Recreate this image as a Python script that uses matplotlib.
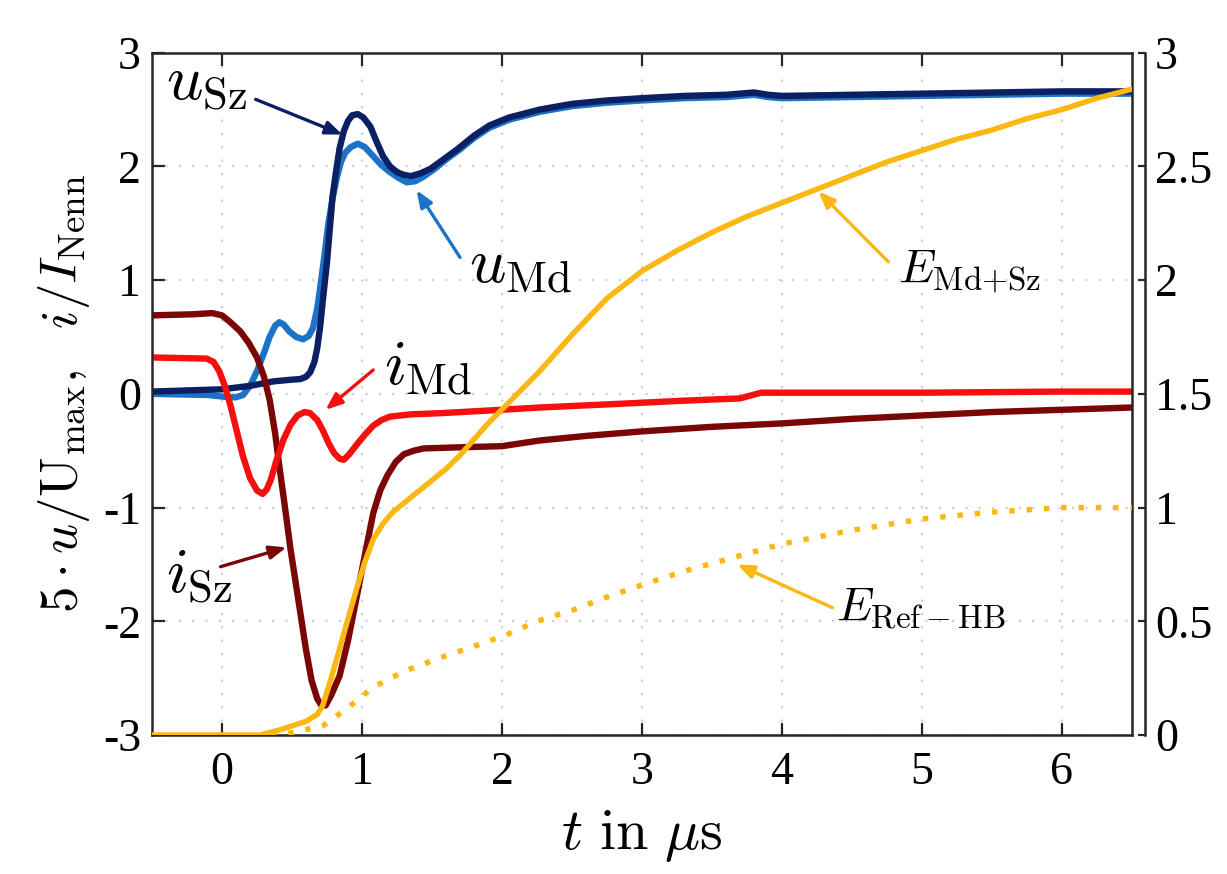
import matplotlib
matplotlib.use("Agg")
import matplotlib.pyplot as plt

plt.rcParams['font.family'] = ['Liberation Serif', 'DejaVu Serif']
plt.rcParams['mathtext.fontset'] = 'cm'
plt.rcParams['axes.unicode_minus'] = False

# ---- data ----
t_uSz = [-0.5, 0.0, 0.2, 0.37, 0.5, 0.56, 0.6, 0.63, 0.66, 0.68, 0.7, 0.72, 0.75,
         0.77, 0.79, 0.82, 0.84, 0.87, 0.9, 0.93, 0.97, 1.01, 1.06, 1.1, 1.15, 1.2,
         1.25, 1.3, 1.35, 1.42, 1.49, 1.58, 1.68, 1.8, 1.91, 2.05, 2.27, 2.5, 2.75,
         3.0, 3.3, 3.6, 3.8, 3.9, 4.0, 4.5, 5.0, 5.5, 6.0, 6.5]
u_Sz = [0.02, 0.04, 0.07, 0.11, 0.125, 0.13, 0.15, 0.19, 0.28, 0.40, 0.58, 0.82,
        1.16, 1.45, 1.74, 2.0, 2.16, 2.31, 2.40, 2.45, 2.46, 2.43, 2.35, 2.23, 2.09,
        2.0, 1.95, 1.925, 1.915, 1.94, 1.98, 2.06, 2.15, 2.27, 2.36, 2.43, 2.5, 2.55,
        2.58, 2.6, 2.62, 2.63, 2.65, 2.63, 2.62, 2.63, 2.64, 2.65, 2.66, 2.66]

t_uMd = [-0.5, -0.1, 0.05, 0.1, 0.15, 0.2, 0.25, 0.3, 0.34, 0.38, 0.41, 0.44, 0.48,
         0.53, 0.58, 0.62, 0.65, 0.68, 0.7, 0.73, 0.76, 0.79, 0.82, 0.85, 0.88, 0.92,
         0.97, 1.02, 1.08, 1.14, 1.2, 1.26, 1.32, 1.38, 1.44, 1.52, 1.6, 1.7, 1.8,
         1.91, 2.05, 2.27, 2.5, 2.75, 3.0, 3.3, 3.6, 3.8, 3.9, 4.0, 4.5, 5.0, 5.5,
         6.0, 6.5]
u_Md = [0.0, -0.01, -0.03, -0.03, -0.01, 0.07, 0.2, 0.36, 0.5, 0.6, 0.63, 0.61, 0.55,
        0.5, 0.48, 0.51, 0.58, 0.75, 0.92, 1.2, 1.5, 1.72, 1.9, 2.04, 2.12, 2.17,
        2.2, 2.17, 2.09, 2.01, 1.95, 1.9, 1.86, 1.87, 1.91, 1.98, 2.06, 2.15, 2.25,
        2.34, 2.41, 2.48, 2.53, 2.56, 2.58, 2.6, 2.61, 2.63, 2.61, 2.6, 2.61, 2.62,
        2.63, 2.64, 2.64]

t_iSz = [-0.5, -0.2, -0.07, 0.0, 0.06, 0.13, 0.19, 0.25, 0.3, 0.34, 0.38, 0.41, 0.45,
         0.49, 0.55, 0.6, 0.64, 0.68, 0.71, 0.74, 0.78, 0.84, 0.9, 0.96, 1.02, 1.08,
         1.13, 1.18, 1.24, 1.3, 1.37, 1.44, 1.7, 2.0, 2.27, 2.6, 3.0, 3.5, 4.0, 4.5,
         5.0, 5.5, 6.0, 6.5]
i_Sz = [0.69, 0.70, 0.71, 0.69, 0.63, 0.55, 0.45, 0.32, 0.15, -0.05, -0.35, -0.64,
        -1.0, -1.37, -1.85, -2.25, -2.52, -2.68, -2.74, -2.74, -2.65, -2.48, -2.17,
        -1.8, -1.42, -1.05, -0.85, -0.72, -0.6, -0.53, -0.5, -0.48, -0.47, -0.46,
        -0.41, -0.37, -0.33, -0.29, -0.26, -0.22, -0.19, -0.16, -0.14, -0.12]

t_iMd = [-0.5, -0.11, -0.06, -0.02, 0.02, 0.06, 0.1, 0.15, 0.2, 0.25, 0.29, 0.32,
         0.35, 0.39, 0.44, 0.49, 0.54, 0.59, 0.63, 0.68, 0.72, 0.76, 0.8, 0.84, 0.87,
         0.91, 0.96, 1.02, 1.08, 1.14, 1.2, 1.35, 1.56, 2.0, 2.27, 2.8, 3.3, 3.7,
         3.85, 4.5, 5.0, 6.0, 6.5]
i_Md = [0.32, 0.31, 0.28, 0.2, 0.07, -0.1, -0.3, -0.55, -0.74, -0.85, -0.88, -0.84,
        -0.75, -0.58, -0.4, -0.27, -0.19, -0.16, -0.17, -0.23, -0.32, -0.43, -0.52,
        -0.57, -0.58, -0.53, -0.45, -0.36, -0.28, -0.23, -0.2, -0.18, -0.17, -0.14,
        -0.12, -0.09, -0.06, -0.04, 0.01, 0.01, 0.01, 0.02, 0.02]

t_E = [-0.5, 0.27, 0.4, 0.5, 0.6, 0.68, 0.72, 0.78, 0.84, 0.9, 0.96, 1.02, 1.08, 1.15,
       1.22, 1.3, 1.4, 1.5, 1.6, 1.7, 1.8, 1.9, 2.03, 2.27, 2.5, 2.75, 3.0, 3.25,
       3.5, 3.75, 4.0, 4.25, 4.5, 4.75, 5.0, 5.25, 5.5, 5.75, 6.0, 6.25, 6.5]
E_MdSz = [0.0, 0.0, 0.02, 0.04, 0.06, 0.09, 0.13, 0.25, 0.38, 0.51, 0.64, 0.76, 0.86,
          0.93, 0.98, 1.02, 1.07, 1.12, 1.17, 1.23, 1.3, 1.37, 1.45, 1.6, 1.76, 1.92,
          2.04, 2.13, 2.21, 2.28, 2.34, 2.4, 2.46, 2.52, 2.57, 2.62, 2.66, 2.71, 2.75,
          2.8, 2.84]

t_Eref = [0.35, 0.5, 0.72, 0.9, 1.08, 1.3, 1.56, 1.8, 2.03, 2.25, 2.51, 2.72, 3.0,
          3.3, 3.65, 4.0, 4.5, 5.0, 5.5, 6.0, 6.5]
E_Ref = [0.0, 0.01, 0.04, 0.12, 0.21, 0.28, 0.34, 0.39, 0.44, 0.5, 0.55, 0.6, 0.66,
         0.72, 0.78, 0.84, 0.9, 0.95, 0.98, 1.0, 1.0]

x_ticks = [0, 1, 2, 3, 4, 5, 6]
yl_ticks = [-3, -2, -1, 0, 1, 2, 3]
yr_ticks = [0, 0.5, 1, 1.5, 2, 2.5, 3]
yr_labels = ['0', '0.5', '1', '1.5', '2', '2.5', '3']

# ---- styles ----
c_uSz = '#0b1f63'
c_uMd = '#1a73c6'
c_iMd = '#f50f0f'
c_iSz = '#7a0606'
c_E = '#fbb712'
spine_c = '#262626'
LW = 4.6

fig = plt.figure(figsize=(12.27, 8.74), dpi=100)
ax = fig.add_axes([152/1227, 1-735/874, 980/1227, (735-52.7)/874])

ax.plot(t_uMd, u_Md, color=c_uMd, lw=LW, solid_joinstyle='round')
ax.plot(t_uSz, u_Sz, color=c_uSz, lw=LW, solid_joinstyle='round')
ax.plot(t_iSz, i_Sz, color=c_iSz, lw=LW, solid_joinstyle='round')
ax.plot(t_iMd, i_Md, color=c_iMd, lw=LW, solid_joinstyle='round')

ax.set_xlim(-0.5, 6.5)
ax.set_ylim(-3, 3)
ax.set_xticks(x_ticks)
ax.set_xticklabels([str(v) for v in x_ticks])
ax.set_yticks(yl_ticks)
ax.set_yticklabels([str(v) for v in yl_ticks])
ax.grid(True, color='#cfcfcf', linestyle=(0, (1, 5)), lw=1.6)
ax.tick_params(axis='both', direction='in', labelsize=33, width=1.6, color=spine_c,
               length=9, top=True, right=False)
ax.tick_params(axis='y', pad=8)
ax.tick_params(axis='x', pad=12)
for s in ax.spines.values():
    s.set_color(spine_c)
    s.set_linewidth(1.8)
ax.set_xlabel(r"$t\ \mathrm{in}\ \mu\mathrm{s}$", fontsize=42, labelpad=10)
ax.set_ylabel(r"$5\cdot u/\mathrm{U}_{\max},\ \ i/I_{\mathrm{Nenn}}$", fontsize=38,
              labelpad=8)

ax2 = ax.twinx()
ax2.plot(t_E, E_MdSz, color=c_E, lw=3.9, solid_joinstyle='round')
ax2.plot(t_Eref, E_Ref, color=c_E, lw=3.9, linestyle=(0, (1, 2.2)))
ax2.set_ylim(0, 3)
ax2.set_yticks(yr_ticks)
ax2.set_yticklabels(yr_labels)
for k in ['top', 'bottom', 'left']:
    ax2.spines[k].set_visible(False)
ax2.spines['right'].set_position(('outward', 9.5))
ax2.spines['right'].set_color(spine_c)
ax2.spines['right'].set_linewidth(1.8)
ax2.tick_params(axis='y', direction='in', labelsize=33, width=1.6, color=spine_c,
                length=5, pad=7)

# ---- annotations ----
arrow = dict(arrowstyle='-|>,head_length=1.0,head_width=0.4', lw=2.4,
             shrinkA=0, shrinkB=0)

ax.text(-0.11, 2.72, r"$u_{\mathrm{Sz}}$", fontsize=46, ha='center', va='center')
ax.annotate('', xy=(0.86, 2.28), xytext=(0.24, 2.59),
            arrowprops=dict(arrow, color=c_uSz))

ax.text(2.13, 1.11, r"$u_{\mathrm{Md}}$", fontsize=46, ha='center', va='center')
ax.annotate('', xy=(1.39, 1.79), xytext=(1.7, 1.2),
            arrowprops=dict(arrow, color=c_uMd))

ax.text(1.47, 0.21, r"$i_{\mathrm{Md}}$", fontsize=46, ha='center', va='center')
ax.annotate('', xy=(0.74, -0.14), xytext=(1.08, 0.21),
            arrowprops=dict(arrow, color=c_iMd))

ax.text(-0.16, -1.62, r"$i_{\mathrm{Sz}}$", fontsize=46, ha='center', va='center')
ax.annotate('', xy=(0.46, -1.35), xytext=(-0.01, -1.52),
            arrowprops=dict(arrow, color=c_iSz))

ax2.text(5.34, 2.04, r"$E_{\mathrm{Md{+}Sz}}$", fontsize=34, ha='center', va='center')
ax2.annotate('', xy=(4.26, 2.39), xytext=(4.76, 2.08),
             arrowprops=dict(arrow, color=c_E))

ax2.text(4.99, 0.56, r"$E_{\mathrm{Ref-HB}}$", fontsize=34, ha='center', va='center')
ax2.annotate('', xy=(3.68, 0.75), xytext=(4.36, 0.56),
             arrowprops=dict(arrow, color=c_E))

fig.savefig('out.png', dpi=100)
